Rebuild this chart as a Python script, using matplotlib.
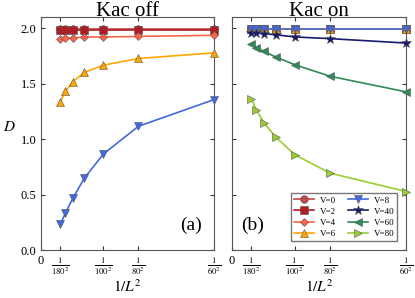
import numpy as np
import matplotlib.pyplot as plt

plt.rcParams['font.family'] = ['Liberation Serif', 'DejaVu Serif']
plt.rcParams['mathtext.fontset'] = 'stix'

L = np.array([180, 160, 140, 120, 100, 80, 60])
X = 1.0 / L**2
TICK_L = [180, 100, 80, 60]

# Kac off
off_v0 = [1.99, 1.99, 1.99, 1.99, 1.99, 1.99, 1.99]
off_v2 = [1.985, 1.985, 1.985, 1.985, 1.985, 1.985, 1.985]
off_v4 = [1.90, 1.91, 1.91, 1.92, 1.92, 1.925, 1.935]
off_v6 = [1.335, 1.43, 1.518, 1.60, 1.666, 1.726, 1.777]
off_v8 = [0.232, 0.332, 0.467, 0.648, 0.865, 1.115, 1.356]

# Kac on
on_v0 = [1.99] * 7
on_v2 = [1.99] * 7
on_v4 = [1.99] * 7
on_v6 = [1.99] * 7
on_v8 = [1.99] * 7
on_v40 = [1.96, 1.955, 1.95, 1.94, 1.92, 1.905, 1.865]
on_v60 = [1.853, 1.823, 1.79, 1.74, 1.67, 1.566, 1.425]
on_v80 = [1.362, 1.26, 1.145, 1.02, 0.859, 0.693, 0.527]

STYLES = {
    'V=0': ('o', '#c0474a'),
    'V=2': ('s', '#b01c22'),
    'V=4': ('D', '#fa6448'),
    'V=6': ('^', '#ffa500'),
    'V=8': ('v', '#4169e1'),
    'V=40': ('*', '#191970'),
    'V=60': ('<', '#2e8b57'),
    'V=80': ('>', '#9acd32'),
}

fig = plt.figure(figsize=(4.15, 2.98), dpi=100)
ax1 = fig.add_axes([0.099, 0.161, 0.417, 0.782])
ax2 = fig.add_axes([0.559, 0.161, 0.420, 0.782])


def draw(ax, name, y):
    m, c = STYLES[name]
    ms = 7 if m == '*' else 5.5
    if m == 'D':
        ms = 4.5
    ax.plot(X, y, marker=m, color=c, lw=1.2, ms=ms, mec='#555555',
            mew=0.4, label=name, clip_on=False, zorder=3)


for name, y in [('V=0', off_v0), ('V=2', off_v2), ('V=4', off_v4),
                ('V=6', off_v6), ('V=8', off_v8)]:
    draw(ax1, name, y)

for name, y in [('V=0', on_v0), ('V=2', on_v2), ('V=4', on_v4),
                ('V=6', on_v6), ('V=8', on_v8), ('V=40', on_v40),
                ('V=60', on_v60), ('V=80', on_v80)]:
    draw(ax2, name, y)

xticks = [0] + [1.0 / l**2 for l in TICK_L]
xlabels = ['0'] + [r'$\frac{1}{%d^2}$' % l for l in TICK_L]

for ax in (ax1, ax2):
    ax.set_xlim(0, 1.0 / 60**2)
    ax.set_ylim(0, 2.1)
    ax.set_xticks(xticks)
    ax.set_xticklabels(xlabels, fontsize=10)
    ax.set_yticks([0, 0.5, 1.0, 1.5, 2.0])
    ax.tick_params(direction='in', top=True, right=True, length=3,
                   labelsize=9, color='#333333')
    ax.set_xlabel(r'$1/L^2$', fontsize=11, labelpad=1)
    for s in ax.spines.values():
        s.set_color('#555555')

ax1.set_yticklabels(['0.0', '0.5', '1.0', '1.5', '2.0'])
ax2.set_yticklabels([])
ax1.set_ylabel(r'$D$', fontsize=11, rotation=0, labelpad=8)

ax1.set_title('Kac off', fontsize=15, pad=1)
ax2.set_title('Kac on', fontsize=15, pad=1)

ax1.text(0.93, 0.07, '(a)', transform=ax1.transAxes, fontsize=14,
         ha='right', va='bottom')
ax2.text(0.05, 0.07, '(b)', transform=ax2.transAxes, fontsize=14,
         ha='left', va='bottom')

ax2.legend(ncol=2, loc='lower right', fontsize=6.5, frameon=True,
           fancybox=False, edgecolor='#555555', handlelength=2.2,
           columnspacing=1.4, labelspacing=0.3, borderpad=0.35,
           handletextpad=0.6, bbox_to_anchor=(0.975, 0.02))

fig.savefig('out.png', dpi=100)
